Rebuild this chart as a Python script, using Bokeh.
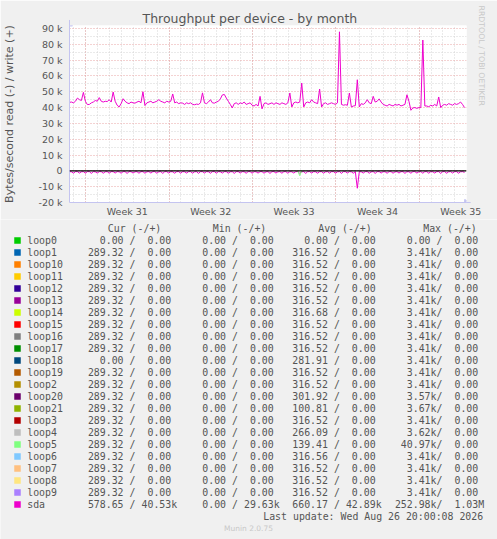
import math
from bokeh.plotting import figure
from bokeh.layouts import column
from bokeh.models import Range1d, FixedTicker, Span, Arrow, NormalHead, Title
from bokeh.core.properties import value
from bokeh.embed import file_html
from bokeh.resources import INLINE

# ---------------- data ----------------
title_text = "Throughput per device - by month"
y_axis_text = "Bytes/second read (-) / write (+)"
side_text = "RRDTOOL / TOBI OETIKER"
week_labels = ["Week 31", "Week 32", "Week 33", "Week 34", "Week 35"]
week_label_days = [3.5, 10.5, 17.5, 24.5, 31.5]
week_start_days = [0, 7, 14, 21, 28]
day_lines = list(range(-1, 32))
y_tick_values = [-20000, -10000, 0, 10000, 20000, 30000, 40000, 50000, 60000, 70000, 80000, 90000]
y_tick_labels = ["-20 k", "-10 k", "0", "10 k", "20 k", "30 k", "40 k", "50 k", "60 k", "70 k", "80 k", "90 k"]
y_minor_values = [-15000, -5000, 5000, 15000, 25000, 35000, 45000, 55000, 65000, 75000, 85000]

sample_start_day = -1.358
sample_step_day = 1.0 / 6.0   # 4-hour samples

sda_write_k = [
    43.3, 43.5, 43.0, 44.0, 46.0, 45.0, 44.5, 49.6, 44.0, 41.9,
    42.0, 43.0, 43.5, 44.5, 44.0, 46.3, 44.0, 43.5, 44.0, 43.8,
    45.0, 43.5, 49.8, 44.0, 41.5, 40.4, 42.5, 45.6, 44.0, 43.0,
    42.5, 43.5, 43.0, 42.8, 43.5, 44.0, 43.0, 50.0, 41.3, 43.0,
    43.5, 44.0, 43.0, 43.5, 44.0, 45.0, 44.0, 43.5, 43.0, 44.0,
    43.5, 44.0, 48.6, 43.0, 43.5, 42.5, 43.0, 42.8, 42.0, 43.0,
    42.5, 43.0, 42.0, 41.8, 42.2, 42.0, 43.0, 49.3, 43.0, 42.5,
    43.5, 45.0, 43.0, 42.8, 43.5, 44.0, 45.5, 48.0, 48.3, 46.0,
    44.0, 42.0, 39.8, 42.5, 43.0, 42.0, 43.0, 42.5, 43.5, 42.0,
    42.5, 43.0, 41.5, 41.0, 42.0, 41.0, 47.1, 39.2, 42.5, 43.0,
    42.0, 42.5, 43.0, 42.0, 43.0, 42.5, 42.0, 43.0, 42.5, 42.0,
    43.0, 49.2, 40.4, 43.0, 43.5, 43.0, 43.5, 55.5, 40.4, 43.0,
    43.5, 43.0, 45.0, 43.5, 43.0, 42.5, 51.7, 40.4, 42.5, 43.0,
    42.0, 42.5, 43.0, 42.5, 42.0, 43.0, 87.9, 42.0, 41.5, 41.8,
    41.5, 49.2, 40.4, 41.0, 41.2, 57.6, 40.4, 42.5, 42.0, 43.0,
    45.0, 43.0, 42.5, 47.1, 43.5, 44.0, 45.5, 43.5, 42.0, 41.5,
    41.0, 42.0, 41.5, 41.0, 42.0, 41.5, 42.0, 41.0, 41.5, 42.0,
    48.1, 44.0, 38.3, 39.8, 40.0, 39.5, 40.0, 40.0, 82.7, 41.0,
    41.0, 40.5, 41.5, 41.0, 42.0, 41.0, 46.7, 40.0, 41.5, 42.0,
    41.5, 42.5, 42.0, 41.5, 42.5, 42.0, 42.5, 43.5, 42.0, 40.0,
]

sda_read_k = [
    0.5, 0.6, 1.5, 0.5, 0.5, 1.4, 0.6, 0.5, 1.5, 0.5,
    0.5, 1.6, 0.5, 0.6, 1.4, 0.5, 0.5, 1.5, 0.6, 0.5,
    1.5, 0.5, 0.5, 1.4, 0.5, 0.6, 1.5, 0.5, 0.5, 1.6,
    0.5, 0.5, 1.4, 0.6, 0.5, 1.5, 0.5, 0.5, 1.5, 0.6,
    0.5, 1.4, 0.5, 0.5, 1.5, 0.6, 0.5, 1.6, 0.5, 0.5,
    1.4, 0.5, 0.6, 1.5, 0.5, 0.5, 1.5, 0.5, 0.6, 1.4,
    0.5, 0.5, 1.5, 0.6, 0.5, 1.6, 0.5, 0.5, 1.4, 0.5,
    0.6, 1.5, 0.5, 0.5, 1.5, 0.5, 0.6, 1.4, 0.5, 0.5,
    1.5, 0.6, 0.5, 1.6, 0.5, 0.5, 1.4, 0.5, 0.6, 1.5,
    0.5, 0.5, 1.5, 0.5, 0.6, 1.4, 0.5, 0.5, 1.5, 0.6,
    0.5, 1.6, 0.5, 0.5, 1.4, 0.6, 0.5, 1.5, 0.5, 0.5,
    1.5, 0.5, 0.6, 1.4, 0.5, 0.5, 1.5, 0.6, 0.5, 1.6,
    0.5, 0.5, 1.4, 0.5, 0.6, 1.5, 0.5, 0.5, 1.5, 0.6,
    0.5, 1.4, 0.5, 0.5, 1.5, 0.6, 0.5, 1.6, 0.5, 0.5,
    1.4, 0.5, 0.6, 1.5, 0.5, 11.0, 0.5, 0.6, 1.4, 0.5,
    0.5, 1.5, 0.6, 0.5, 1.6, 0.5, 0.5, 1.4, 0.5, 0.6,
    1.5, 0.5, 0.5, 1.5, 0.6, 0.5, 1.4, 0.5, 0.5, 1.6,
    0.5, 0.6, 1.5, 0.5, 0.5, 1.4, 0.6, 0.5, 1.5, 0.5,
    0.5, 1.5, 0.5, 0.6, 1.4, 0.5, 0.5, 1.6, 0.5, 0.5,
    1.5, 0.6, 0.5, 1.4, 0.5, 0.5, 1.5, 0.6, 0.5, 1.0,
]

loop5_read_day = [17.81, 17.97, 18.14]
loop5_read_k = [0.0, 3.0, 0.0]

devices = ["loop0", "loop1", "loop10", "loop11", "loop12", "loop13", "loop14", "loop15",
           "loop16", "loop17", "loop18", "loop19", "loop2", "loop20", "loop21", "loop3",
           "loop4", "loop5", "loop6", "loop7", "loop8", "loop9", "sda"]
colors = ["#00CC00", "#0066B3", "#FF8000", "#FFCC00", "#330099", "#990099", "#CCFF00", "#FF0000",
          "#808080", "#008F00", "#00487D", "#B35A00", "#B38F00", "#6B006B", "#8FB300", "#B30000",
          "#BEBEBE", "#80FF80", "#80C9FF", "#FFC080", "#FFE680", "#AA80FF", "#EE00CC"]
cur_read = ["0.00"] + ["289.32"] * 9 + ["0.00"] + ["289.32"] * 11 + ["578.65"]
cur_write = ["0.00"] * 22 + ["40.53k"]
min_read = ["0.00"] * 23
min_write = ["0.00"] * 22 + ["29.63k"]
avg_read = ["0.00", "316.52", "316.52", "316.52", "316.52", "316.52", "316.68", "316.52",
            "316.52", "316.52", "281.91", "316.52", "316.52", "301.92", "100.81", "316.52",
            "266.09", "139.41", "316.56", "316.52", "316.52", "316.52", "660.17"]
avg_write = ["0.00"] * 22 + ["42.89k"]
max_read = ["0.00", "3.41k", "3.41k", "3.41k", "3.41k", "3.41k", "3.41k", "3.41k",
            "3.41k", "3.41k", "3.41k", "3.41k", "3.41k", "3.57k", "3.67k", "3.41k",
            "3.62k", "40.97k", "3.41k", "3.41k", "3.41k", "3.41k", "252.98k"]
max_write = ["0.00"] * 22 + ["1.03M"]
column_headers = ["Cur (-/+)", "Min (-/+)", "Avg (-/+)", "Max (-/+)"]
last_update_text = "Last update: Wed Aug 26 20:00:08 2026"
footer_text = "Munin 2.0.75"

# ---------------- styling ----------------
BG = "#F0F0F0"
TXT = "#555555"
AXIS_COL = "#C4C4F0"
MAJ_GRID = "#E8A4A4"
MIN_GRID = "#D4D4D4"
SANS = "DejaVu Sans"
MONO = "DejaVu Sans Mono"
W = 497

# ---------------- main chart ----------------
x_lo = sample_start_day
x_hi = sample_start_day + 400.0 / 12.0
y_lo, y_hi = -20000, 91886

p = figure(width=W, height=219, x_range=Range1d(x_lo, x_hi), y_range=Range1d(y_lo, y_hi),
           output_backend="svg", toolbar_location=None,
           min_border_left=67, min_border_right=30, min_border_top=25, min_border_bottom=16)
p.background_fill_color = "white"
p.border_fill_color = BG
p.outline_line_color = None

p.title.text = title_text
p.title.align = "left"
p.title.offset = 73
p.title.standoff = 0
p.title.text_font = SANS
p.title.text_font_size = "12.5px"
p.title.text_font_style = "normal"
p.title.text_color = TXT

side = Title(text=side_text, align="left", offset=-20, standoff=20,
             text_font=SANS, text_font_size="7.8px", text_font_style="normal",
             text_color="#C8C8C8")
p.add_layout(side, "right")

# axes
p.xaxis.ticker = FixedTicker(ticks=week_label_days)
p.xaxis.major_label_overrides = {d: l for d, l in zip(week_label_days, week_labels)}
p.yaxis.ticker = FixedTicker(ticks=y_tick_values)
p.yaxis.major_label_overrides = {v: l for v, l in zip(y_tick_values, y_tick_labels)}
for ax in (p.xaxis, p.yaxis):
    ax.major_tick_line_color = None
    ax.minor_tick_line_color = None
    ax.major_tick_out = 0
    ax.major_tick_in = 0
    ax.axis_line_color = AXIS_COL
    ax.major_label_text_font = SANS
    ax.major_label_text_font_size = "9.5px"
    ax.major_label_text_color = TXT
p.xaxis.major_label_standoff = 3
p.yaxis.major_label_standoff = 7
p.yaxis.axis_label = y_axis_text
p.yaxis.axis_label_standoff = 19
p.yaxis.axis_label_text_font = SANS
p.yaxis.axis_label_text_font_size = "11px"
p.yaxis.axis_label_text_font_style = "normal"
p.yaxis.axis_label_text_color = TXT

# grids
p.xgrid.ticker = FixedTicker(ticks=week_start_days, minor_ticks=day_lines)
p.ygrid.ticker = FixedTicker(ticks=y_tick_values, minor_ticks=y_minor_values)
for g in (p.xgrid, p.ygrid):
    g.grid_line_color = MAJ_GRID
    g.grid_line_dash = "1 2"
    g.minor_grid_line_color = MIN_GRID
    g.minor_grid_line_dash = "1 2"

t = [sample_start_day + i * sample_step_day for i in range(len(sda_write_k))]
p.line(t, [v * 1000 for v in sda_write_k], line_color=colors[-1], line_width=1)
p.line(t, [-v * 1000 for v in sda_read_k], line_color=colors[-1], line_width=1)
p.line(loop5_read_day, [-v * 1000 for v in loop5_read_k], line_color=colors[17], line_width=1)
p.add_layout(Span(location=0, dimension="width", line_color="black", line_width=1.4))

# axis arrows
p.add_layout(Arrow(end=NormalHead(size=6, fill_color=AXIS_COL, line_color=AXIS_COL),
                   x_start=x_hi - 0.05, y_start=y_lo, x_end=x_hi + 0.35, y_end=y_lo,
                   line_color=AXIS_COL, line_width=1))
p.add_layout(Arrow(end=NormalHead(size=6, fill_color=AXIS_COL, line_color=AXIS_COL),
                   x_start=x_lo, y_start=y_hi - 500, x_end=x_lo, y_end=y_hi + 3500,
                   line_color=AXIS_COL, line_width=1))

# ---------------- legend panel ----------------
leg = figure(width=W, height=320, x_range=Range1d(0, W), y_range=Range1d(539, 219),
             output_backend="svg", toolbar_location=None, min_border=0,
             x_axis_location=None, y_axis_location=None)
leg.background_fill_color = BG
leg.border_fill_color = BG
leg.outline_line_color = None
leg.grid.visible = False
for fig in (p, leg):
    try:
        fig.frame_align = False
    except Exception:
        pass

row_y = [239.5 + 12 * k for k in range(len(devices))]
leg.rect(x=[17] * len(devices), y=[y + 0.5 for y in row_y], width=6.5, height=6.5,
         fill_color=colors, line_color=None)
leg.text(x=[26.7] * len(devices), y=row_y, text=devices, text_font=value(MONO),
         text_font_size="9.9px", text_color=TXT, text_baseline="middle", text_align="left")

cw = 5.96
col_starts = [87.3, 189.8, 291.7, 394.3]
header_x = [107.3, 212.3, 317.7, 422.7]
leg.text(x=header_x, y=[228] * 4, text=column_headers, text_font=value(MONO),
         text_font_size="9.9px", text_color=TXT, text_baseline="middle", text_align="left")

rx, ry, rt = [], [], []
lx, ly, lt = [], [], []
def split_unit(s):
    if s[-1].isalpha():
        return s[:-1], s[-1]
    return s, ""
for c0, rd, wr in zip(col_starts, [cur_read, min_read, avg_read, max_read],
                      [cur_write, min_write, avg_write, max_write]):
    for y, a, b in zip(row_y, rd, wr):
        na, ua = split_unit(a)
        nb, ub = split_unit(b)
        rx.append(c0 + 6 * cw); ry.append(y); rt.append(na)
        rx.append(c0 + 14 * cw); ry.append(y); rt.append(nb)
        lx.append(c0 + 7 * cw); ly.append(y); lt.append("/")
        if ua:
            lx.append(c0 + 6 * cw); ly.append(y); lt.append(ua)
        if ub:
            lx.append(c0 + 14 * cw); ly.append(y); lt.append(ub)
leg.text(x=rx, y=ry, text=rt, text_font=value(MONO), text_font_size="9.9px",
         text_color=TXT, text_baseline="middle", text_align="right")
leg.text(x=lx, y=ly, text=lt, text_font=value(MONO), text_font_size="9.9px",
         text_color=TXT, text_baseline="middle", text_align="left")

leg.text(x=[482.7], y=[515.8], text=[last_update_text], text_font=value(MONO),
         text_font_size="9.9px", text_color=TXT, text_baseline="middle", text_align="right")
leg.text(x=[248], y=[527.8], text=[footer_text], text_font=value(SANS),
         text_font_size="7.5px", text_color="#C8C8C8", text_baseline="middle", text_align="center")

layout = column(p, leg, spacing=0)
open("out.html", "w").write(file_html(layout, INLINE))
